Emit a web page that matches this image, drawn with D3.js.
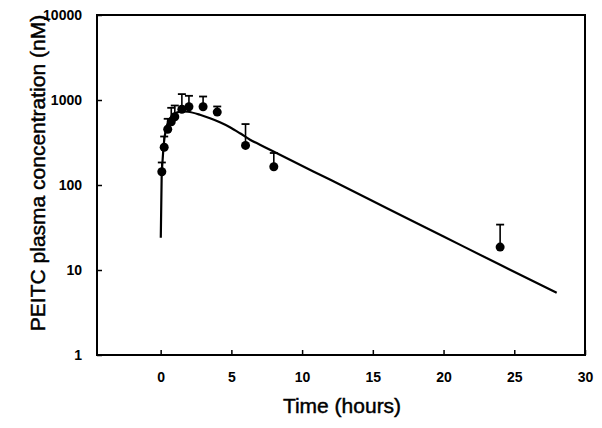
<!DOCTYPE html>
<html>
<head>
<meta charset="utf-8">
<script src="https://cdn.jsdelivr.net/npm/d3@7"></script>
<style>
  html, body { margin: 0; padding: 0; background: #fff; }
  svg { display: block; }
  text { font-family: "Liberation Sans", Arial, sans-serif; fill: #000; }
</style>
</head>
<body>
<svg id="chart" width="602" height="428"></svg>
<script>
// Observed data (mean and upper error bar)
const times = [0.083, 0.25, 0.5, 0.75, 1, 1.5, 2, 3, 4, 6, 8, 24];
const means = [143, 278, 453, 554, 635, 778, 832, 832, 721, 292, 164, 18.6];
const upper = [184, 372, 601, 809, 861, 1173, 1120, 1099, 839, 521, 238, 34.2];

// Model fit curve
const curveTimes = [0.01, 0.07, 0.14, 0.23, 0.37, 0.54, 0.78, 1.13, 1.6, 1.93, 2.78, 3.49, 4.19, 4.9, 5.61, 6.32, 7.02, 7.73, 9.14, 12, 16, 20, 24, 28];
const curveConc  = [24, 121, 198, 312, 447, 559, 640, 713, 733, 727, 670, 609, 547, 478, 406, 341, 298, 260, 198, 115, 53.4, 24.8, 11.5, 5.4];

const xTicks = [0, 5, 10, 15, 20, 25, 30];
const yTicks = [1, 10, 100, 1000, 10000];
const xTitle = "Time (hours)";
const yTitle = "PEITC plasma concentration (nM)";

const svg = d3.select("#chart");
const L = 97, R = 585, T = 15, B = 355;

const x = d3.scaleLinear().domain([-4.5, 30]).range([L, R]);
const y = d3.scaleLog().domain([1, 10000]).range([B, T]);

// frame: four filled bars, 2px thick
const fw = 2;
const frame = svg.append("g").attr("fill", "#000");
frame.append("rect").attr("x", L - fw / 2).attr("y", T - fw / 2).attr("width", R - L + fw).attr("height", fw);
frame.append("rect").attr("x", L - fw / 2).attr("y", B - fw / 2).attr("width", R - L + fw).attr("height", fw);
frame.append("rect").attr("x", L - fw / 2).attr("y", T - fw / 2).attr("width", fw).attr("height", B - T + fw);
frame.append("rect").attr("x", R - fw / 2).attr("y", T - fw / 2).attr("width", fw).attr("height", B - T + fw);

// x axis (ticks inward)
const xAxis = d3.axisBottom(x).tickValues(xTicks).tickSizeInner(-5).tickSizeOuter(0).tickPadding(17).tickFormat(d3.format("d"));
const gx = svg.append("g").attr("transform", `translate(0,${B})`).call(xAxis);
gx.select(".domain").remove();
gx.selectAll(".tick line").attr("stroke", "#000").attr("stroke-width", 1.5);
gx.selectAll(".tick text").attr("font-size", 14).attr("font-weight", "bold")
  .attr("font-family", "Liberation Sans, Arial, sans-serif");

// y axis (ticks inward)
const yAxis = d3.axisLeft(y).tickValues(yTicks).tickSizeInner(-5).tickSizeOuter(0).tickPadding(15).tickFormat(d3.format("d"));
const gy = svg.append("g").attr("transform", `translate(${L},0)`).call(yAxis);
gy.select(".domain").remove();
gy.selectAll(".tick line").attr("stroke", "#000").attr("stroke-width", 1.5);
gy.selectAll(".tick text").attr("font-size", 14).attr("font-weight", "bold")
  .attr("font-family", "Liberation Sans, Arial, sans-serif");

// model curve
const line = d3.line().x((d, i) => x(curveTimes[i])).y(d => y(d)).curve(d3.curveMonotoneX);
svg.append("path")
  .datum(curveConc)
  .attr("d", line)
  .attr("fill", "none").attr("stroke", "#000").attr("stroke-width", 2.2);

// error bars (upper)
const capW = 4;
const eb = svg.append("g");
times.forEach((t, i) => {
  eb.append("line")
    .attr("x1", x(t)).attr("x2", x(t))
    .attr("y1", y(means[i])).attr("y2", y(upper[i]))
    .attr("stroke", "#000").attr("stroke-width", 1.6);
  eb.append("line")
    .attr("x1", x(t) - capW).attr("x2", x(t) + capW)
    .attr("y1", y(upper[i])).attr("y2", y(upper[i]))
    .attr("stroke", "#000").attr("stroke-width", 1.8);
});

// points
svg.append("g").selectAll("circle")
  .data(means)
  .join("circle")
  .attr("cx", (d, i) => x(times[i]))
  .attr("cy", d => y(d))
  .attr("r", 4.5)
  .attr("fill", "#000");

// titles
svg.append("text")
  .attr("x", (L + R) / 2 + 1).attr("y", 413)
  .attr("text-anchor", "middle")
  .attr("font-size", 21)
  .attr("stroke", "#000").attr("stroke-width", 0.45)
  .text(xTitle);

svg.append("text")
  .attr("transform", `translate(45,${173}) rotate(-90)`)
  .attr("text-anchor", "middle")
  .attr("font-size", 21)
  .attr("stroke", "#000").attr("stroke-width", 0.45)
  .text(yTitle);
</script>
</body>
</html>
